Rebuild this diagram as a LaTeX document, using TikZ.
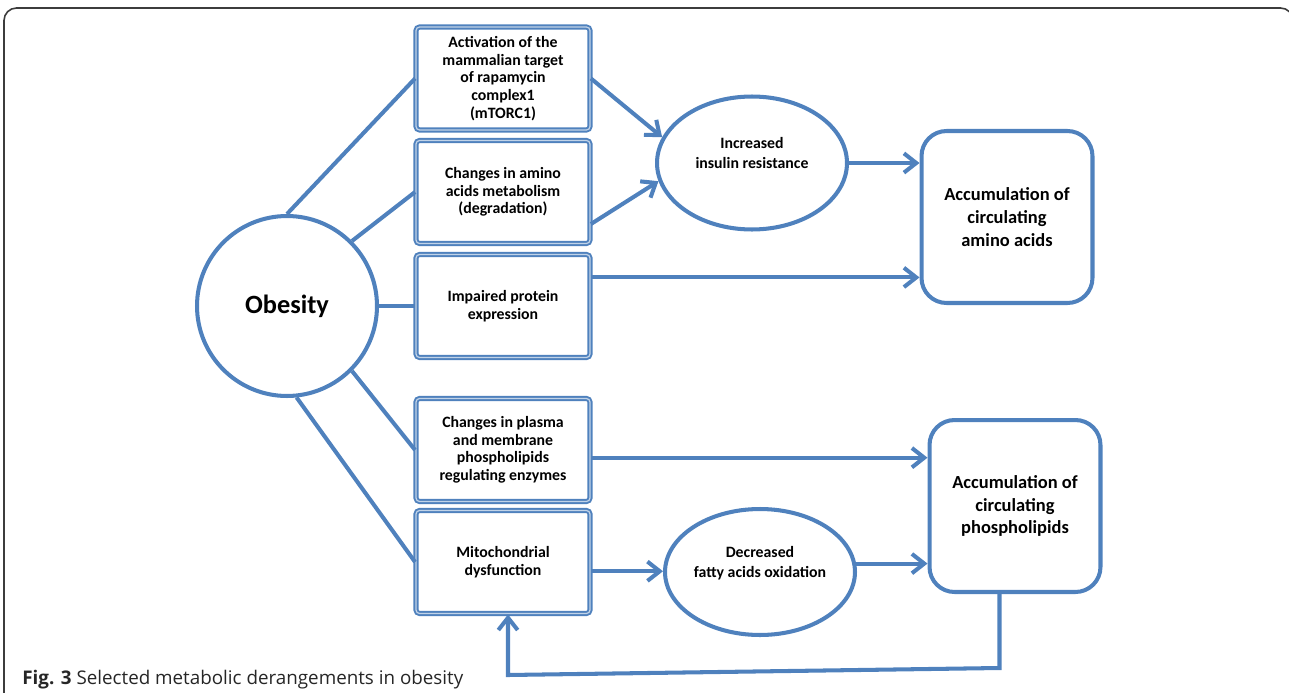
\documentclass[tikz,border=0pt]{standalone}
\usepackage{fontspec}
\setmainfont{Carlito}
\newfontfamily\capfont{Open Sans}
\usetikzlibrary{shapes.geometric,arrows.meta}
\definecolor{officeblue}{RGB}{79,129,189}
\definecolor{framegray}{RGB}{60,60,60}

\begin{document}
\begin{tikzpicture}[x=0.02cm, y=-0.02cm, >={Straight Barb[length=7pt,width=11pt]},
  link/.style={officeblue, line width=2.3pt},
  cause/.style={draw=officeblue, line width=1.1pt, double=officeblue!35, double distance=0.7pt, rounded corners=2pt, minimum width=3.48cm, minimum height=2.06cm, inner sep=1pt, align=center, font=\bfseries\fontsize{9}{10}\selectfont},
  oval/.style={ellipse, draw=officeblue, line width=2.3pt, minimum width=3.8cm, inner sep=0pt, align=center, font=\bfseries\fontsize{9}{11.3}\selectfont},
  outcome/.style={draw=officeblue, line width=2.3pt, rounded corners=0.5cm, minimum width=3.42cm, minimum height=3.44cm, align=center, font=\bfseries\fontsize{10.5}{13}\selectfont}]
  \useasboundingbox (0, 0) rectangle (1289, 693);
  \draw[framegray, line width=0.9pt, rounded corners=0.25cm] (4, 720) -- (4, 8) -- (1293, 8) -- (1293, 720);

  \node[circle, draw=officeblue, line width=2.3pt, minimum size=3.6cm, font=\bfseries\fontsize{15}{18}\selectfont] (obesity) at (287, 306) {Obesity};

  \node[cause] (mtorc) at (503, 78.5) {Activation of the\\mammalian target\\of rapamycin\\complex1\\(mTORC1)};
  \node[cause] (amino) at (503, 192) {Changes in amino\\acids metabolism\\(degradation)};
  \node[cause] (protein) at (503, 306) {Impaired protein\\expression};
  \node[cause] (plasma) at (503, 450) {Changes in plasma\\and membrane\\phospholipids\\regulating enzymes};
  \node[cause] (mito) at (503, 562) {Mitochondrial\\dysfunction};

  \node[oval, minimum height=2.66cm] (insulin) at (752, 163) {Increased\\insulin resistance\\\mbox{}};
  \node[oval, minimum height=2.52cm] (fatty) at (760, 572) {Decreased\\fatty acids oxidation\\\mbox{}};

  \node[outcome] (accamino) at (1007, 217) {Accumulation of\\circulating\\amino acids};
  \node[outcome] (accphos) at (1015, 506) {Accumulation of\\circulating\\phospholipids};

  \draw[link] (obesity.north) -- (mtorc.west);
  \draw[link] (obesity.45) -- (amino.west);
  \draw[link] (obesity.east) -- (protein.west);
  \draw[link] (obesity.-45) -- (plasma.west);
  \draw[link] (obesity.-84) -- (mito.west);

  \draw[link, ->] (mtorc.east) -- (insulin.164);
  \draw[link, ->] (amino.-20) -- (insulin.191);
  \draw[link, ->] (insulin.east) -- (insulin.east -| accamino.west);
  \draw[link, ->] (protein.18) -- (protein.18 -| accamino.west);
  \draw[link, ->] (plasma.-5) -- (plasma.-5 -| accphos.west);
  \draw[link, ->] (mito.-6) -- (mito.-6 -| fatty.west);
  \draw[link, ->] (fatty.5) -- (fatty.5 -| accphos.west);

  \coordinate (back) at (508, 675);
  \draw[link, ->] (accphos.-100) -- ++(0, 74) -- (back) -- (back |- mito.south);

  \node[anchor=base west, inner sep=0pt, text=black!85, font=\capfont\fontsize{10.7}{13}\selectfont] (caption) at (22, 684) {\textbf{Fig. 3} Selected metabolic derangements in obesity};
\end{tikzpicture}
\end{document}
